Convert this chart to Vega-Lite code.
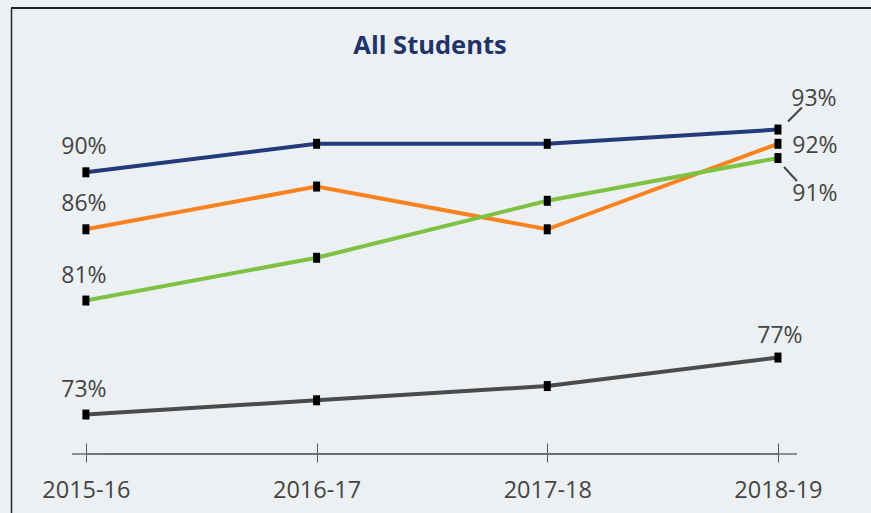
{
  "$schema": "https://vega.github.io/schema/vega-lite/v6.json",
  "autosize": {"type": "none"},
  "width": 860,
  "height": 505,
  "padding": {"left": 11, "top": 8, "right": 0, "bottom": 0},
  "background": "#ecf0f3",
  "config": {"view": {"stroke": null}, "font": "Open Sans"},
  "title": {"text": "All Students", "fontSize": 25.5, "font": "Open Sans", "fontWeight": "bold", "color": "#1f3469", "anchor": "middle", "offset": -45, "baseline": "alphabetic", "dx": -11, "dy": 27},
  "data": {"values": [
    {"series": "Series 1", "year": "2015-16", "value": 90},
    {"series": "Series 1", "year": "2016-17", "value": 92},
    {"series": "Series 1", "year": "2017-18", "value": 92},
    {"series": "Series 1", "year": "2018-19", "value": 93},
    {"series": "Series 2", "year": "2015-16", "value": 86},
    {"series": "Series 2", "year": "2016-17", "value": 89},
    {"series": "Series 2", "year": "2017-18", "value": 86},
    {"series": "Series 2", "year": "2018-19", "value": 92},
    {"series": "Series 3", "year": "2015-16", "value": 81},
    {"series": "Series 3", "year": "2016-17", "value": 84},
    {"series": "Series 3", "year": "2017-18", "value": 88},
    {"series": "Series 3", "year": "2018-19", "value": 91},
    {"series": "Series 4", "year": "2015-16", "value": 73},
    {"series": "Series 4", "year": "2016-17", "value": 74},
    {"series": "Series 4", "year": "2017-18", "value": 75},
    {"series": "Series 4", "year": "2018-19", "value": 77}
  ]},
  "encoding": {
    "x": {"field": "year", "type": "ordinal", "sort": null,
      "scale": {"type": "point", "domain": ["2015-16", "2016-17", "2017-18", "2018-19"], "padding": 0.364, "align": 0.446},
      "axis": {"orient": "bottom", "offset": -70, "domain": false, "tickSize": 19, "tickColor": "#555555", "tickWidth": 1, "labelFontSize": 23.5, "labelColor": "#444444", "labelFont": "Open Sans", "labelPadding": 16, "labelAngle": 0, "title": null, "grid": false}},
    "y": {"field": "value", "type": "quantitative",
      "scale": {"domain": [66.09, 101.53], "nice": false, "zero": false},
      "axis": {"orient": "left", "domain": true, "domainColor": "#222222", "domainWidth": 1.5, "ticks": false, "labels": false, "grid": false, "title": null}}
  },
  "layer": [
    {"mark": {"type": "rule", "color": "#222222", "strokeWidth": 1.5},
     "encoding": {"x": null, "y": {"datum": 101.53}}},
    {"transform": [{"filter": "datum.series === 'Series 4'"}, {"calculate": "70.23", "as": "base"}],
     "mark": {"type": "line", "color": "#6e6e6e", "strokeWidth": 1.5},
     "encoding": {"y": {"field": "base", "type": "quantitative"}}},
    {"transform": [{"filter": "datum.series === 'Series 4'"}, {"calculate": "70.23", "as": "base"}],
     "mark": {"type": "line", "color": "#6e6e6e", "strokeWidth": 1.5, "xOffset": -14},
     "encoding": {"y": {"field": "base", "type": "quantitative"}}},
    {"transform": [{"filter": "datum.series === 'Series 4'"}, {"calculate": "70.23", "as": "base"}],
     "mark": {"type": "line", "color": "#6e6e6e", "strokeWidth": 1.5, "xOffset": 19},
     "encoding": {"y": {"field": "base", "type": "quantitative"}}},
    {"mark": {"type": "line", "strokeWidth": 4},
     "encoding": {"color": {"field": "series", "type": "nominal", "legend": null,
       "scale": {"domain": ["Series 1", "Series 2", "Series 3", "Series 4"], "range": ["#233a7b", "#f7821e", "#7dc242", "#4b4b4b"]}}}},
    {"mark": {"type": "point", "filled": true, "opacity": 1, "color": "#000000", "shape": "M-0.7,-1L0.7,-1L0.7,1L-0.7,1Z", "size": 100}},
    {"transform": [{"filter": "datum.year === '2015-16'"}, {"calculate": "datum.value + '%'", "as": "label"}],
     "mark": {"type": "text", "fontSize": 23, "color": "#444444", "dx": -2, "dy": -18, "baseline": "alphabetic", "align": "center"},
     "encoding": {"text": {"field": "label"}}},
    {"transform": [{"filter": "datum.year === '2018-19' && datum.series === 'Series 1'"}, {"calculate": "datum.value + '%'", "as": "label"}],
     "mark": {"type": "text", "fontSize": 23, "color": "#444444", "dx": 36, "dy": -24, "baseline": "alphabetic", "align": "center"},
     "encoding": {"text": {"field": "label"}}},
    {"transform": [{"filter": "datum.year === '2018-19' && datum.series === 'Series 2'"}, {"calculate": "datum.value + '%'", "as": "label"}],
     "mark": {"type": "text", "fontSize": 23, "color": "#444444", "dx": 37, "dy": 9, "baseline": "alphabetic", "align": "center"},
     "encoding": {"text": {"field": "label"}}},
    {"transform": [{"filter": "datum.year === '2018-19' && datum.series === 'Series 3'"}, {"calculate": "datum.value + '%'", "as": "label"}],
     "mark": {"type": "text", "fontSize": 23, "color": "#444444", "dx": 37, "dy": 43, "baseline": "alphabetic", "align": "center"},
     "encoding": {"text": {"field": "label"}}},
    {"transform": [{"filter": "datum.year === '2018-19' && datum.series === 'Series 4'"}, {"calculate": "datum.value + '%'", "as": "label"}],
     "mark": {"type": "text", "fontSize": 23, "color": "#444444", "dx": 2, "dy": -15, "baseline": "alphabetic", "align": "center"},
     "encoding": {"text": {"field": "label"}}},
    {"transform": [{"filter": "datum.year === '2018-19' && datum.series === 'Series 1'"}],
     "mark": {"type": "rule", "color": "#444444", "strokeWidth": 2, "xOffset": 10, "yOffset": -8, "x2Offset": 24, "y2Offset": -22},
     "encoding": {"x2": {"field": "year"}, "y2": {"field": "value"}}},
    {"transform": [{"filter": "datum.year === '2018-19' && datum.series === 'Series 3'"}],
     "mark": {"type": "rule", "color": "#444444", "strokeWidth": 2, "xOffset": 6, "yOffset": 9, "x2Offset": 19, "y2Offset": 23},
     "encoding": {"x2": {"field": "year"}, "y2": {"field": "value"}}}
  ]
}
